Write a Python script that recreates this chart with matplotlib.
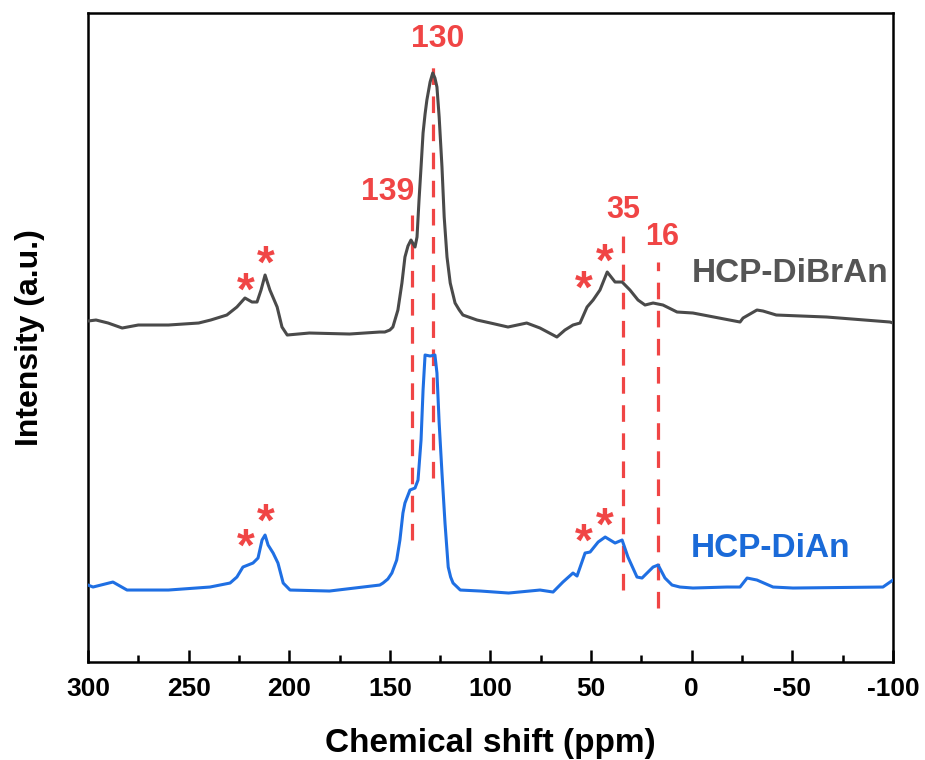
import numpy as np
import matplotlib; matplotlib.use("Agg")
import matplotlib.pyplot as plt
from matplotlib.ticker import MultipleLocator

plt.rcParams["font.family"] = ["Liberation Sans", "DejaVu Sans"]
plt.rcParams["font.weight"] = "bold"
plt.rcParams["axes.unicode_minus"] = False

# HCP-DiBrAn trace (ppm, intensity a.u.)
dibr_ppm = [300, 296, 290, 283, 275, 260, 245, 239, 231, 226, 222, 218.5, 216, 214, 212, 209.6, 206, 203.6, 201,
            190, 170, 155, 152.5, 150, 148.5, 146, 144, 142.5, 141, 139.5, 137.5, 136.5, 135.5, 134.5, 133.5,
            132.5, 131.6, 130, 128.7, 127.6, 126.6, 125.5, 124.1, 123, 121.6, 120, 117.6, 115.5, 113.7, 106.7,
            100, 91.3, 82, 75.4, 67, 63, 59, 55.5, 52, 49, 45.6, 42, 38.1, 34.6, 30.7, 26.7, 23.2, 19.2, 14.3,
            7.3, -0.6, -24, -25.5, -32.4, -35.4, -42, -67, -98.5, -100]
dibr_int = [341, 342, 339, 334, 337, 337, 339, 342, 347, 355, 364, 360, 360, 372, 387, 372, 355, 335, 327,
            329, 328, 330, 330, 332, 335, 352, 379, 405, 416, 422, 415, 425, 462, 495, 529,
            548, 562, 580, 589, 584, 575, 545, 495, 445, 405, 379, 359, 352, 347, 342,
            339, 335, 339, 334, 325, 332, 337, 339, 355, 362, 372, 390, 380, 380, 372, 362, 357, 359, 357,
            350, 349, 340, 344, 352, 351, 347, 345, 340, 339]

# HCP-DiAn trace
dian_ppm = [300, 297.5, 287.6, 280.6, 260, 239.4, 229.4, 226, 223, 220.5, 218, 215.5, 213.5, 212, 210.5, 208,
            205.6, 203, 199.6, 180, 155, 153.4, 151, 149, 146.6, 145, 143.5, 142.5, 140, 137.5, 136, 134.5,
            133.5, 132.5, 130, 127.6, 126.6, 125.5, 124.1, 122.6, 121, 119.8, 118.6, 115, 105, 91, 75.4, 68.9,
            64, 59, 57, 53, 50.5, 46.5, 43, 38.1, 34.6, 31.7, 27.2, 24.7, 19.2, 16.7, 13.3, 9.8, 5.9, -0.6,
            -17.5, -24, -27.5, -32.4, -40.4, -50.3, -95, -100]
dian_int = [77, 75, 80, 72, 72, 75, 79, 85, 95, 97, 99, 104, 122, 127, 117, 109,
            99, 79, 72, 71, 77, 79, 83, 89, 102, 122, 149, 159, 172, 174, 182, 222,
            272, 307, 306, 307, 289, 239, 189, 139, 95, 85, 79, 72, 71, 69, 72, 70,
            80, 89, 86, 109, 110, 120, 125, 119, 122, 105, 85, 84, 95, 97, 84, 77, 75, 74,
            75, 75, 84, 82, 75, 74, 75, 82]

# marked peaks: drawn position, label, dashed span
peak_pos = [139, 128.7, 34.2, 16.8]
peak_lab = ["139", "130", "35", "16"]
peak_lo = [122, 184, 72, 54]
peak_hi = [447, 600, 429, 400]
lab_x = [150.9, 126.1, 34.2, 14.8]
lab_y = [470, 623, 452, 425]
lab_size = [23, 23, 22, 22]

# spinning sidebands (*)
star_x = [221.5, 211.6, 53.5, 43.1, 221.5, 211.6, 53.5, 43.1]
star_y = [369, 396, 371, 398, 113, 138, 118, 134]

red = "#F04545"
gray = "#4A4A4A"
blue = "#1F6FE3"

fig = plt.figure(figsize=(9.25, 7.6), dpi=100)
ax = fig.add_axes([0.0951, 0.1289, 0.8703, 0.854])

ax.plot(dibr_ppm, dibr_int, color=gray, lw=2.2, solid_joinstyle="round", zorder=3)
ax.plot(dian_ppm, dian_int, color=blue, lw=2.2, solid_joinstyle="round", zorder=3)

for p, lo, hi in zip(peak_pos, peak_lo, peak_hi):
    ax.plot([p, p], [lo, hi], color=red, lw=2.3, ls=(0, (5.2, 3.6)), zorder=2)
for x, y, t, s in zip(lab_x, lab_y, peak_lab, lab_size):
    ax.text(x, y, t, color=red, fontsize=s, fontweight="bold", ha="center", va="center")
for x, y in zip(star_x, star_y):
    ax.text(x, y, "*", color=red, fontsize=33, fontweight="bold", ha="center", va="center")

ax.text(-98, 389, "HCP-DiBrAn", color="#555555", fontsize=24, fontweight="bold", ha="right", va="center")
ax.text(-79, 114, "HCP-DiAn", color="#1A6AD8", fontsize=24, fontweight="bold", ha="right", va="center")

ax.set_xlim(300, -100)
ax.set_ylim(0, 649)
ax.xaxis.set_major_locator(MultipleLocator(50))
ax.xaxis.set_minor_locator(MultipleLocator(25))
ax.set_yticks([])
ax.tick_params(axis="x", which="major", direction="in", length=8.6, width=1.8, pad=11, labelsize=19)
ax.tick_params(axis="x", which="minor", direction="in", length=5, width=1.8)
for lab in ax.get_xticklabels():
    lab.set_fontweight("bold")
for sp in ax.spines.values():
    sp.set_linewidth(1.8)

ax.set_xlabel("Chemical shift (ppm)", fontsize=24, fontweight="bold", va="center")
ax.xaxis.set_label_coords(0.5, -0.125)
ax.set_ylabel("Intensity (a.u.)", fontsize=23, fontweight="bold", va="center")
ax.yaxis.set_label_coords(-0.072, 0.5)

fig.savefig("out.png", dpi=100)
